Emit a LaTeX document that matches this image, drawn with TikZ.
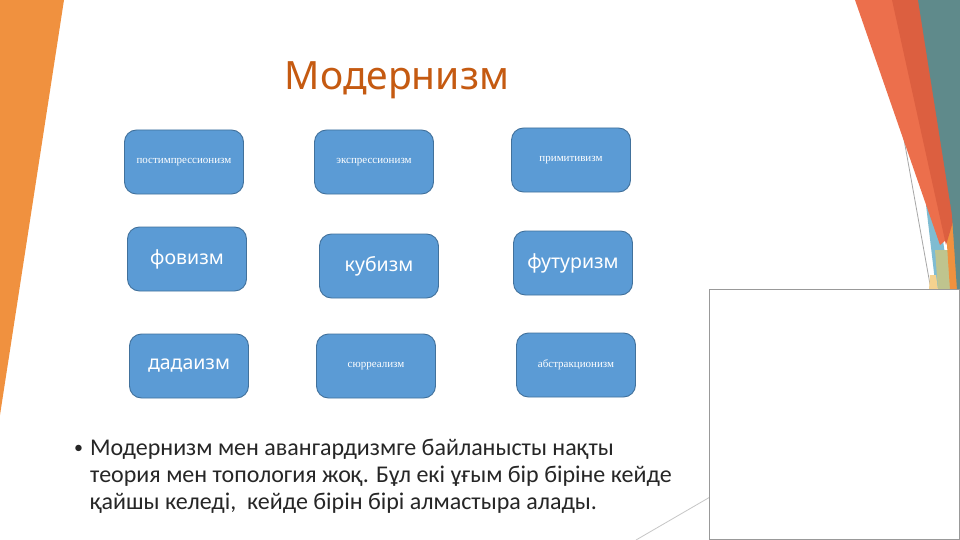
\documentclass[tikz,border=0pt]{standalone}
\usepackage{fontspec}
\setmainfont{Liberation Serif}
\newfontfamily\bodyfont{Carlito}
\newfontfamily\titlefont{Noto Sans}
\newfontfamily\serifbox{Liberation Serif}
\definecolor{boxfill}{HTML}{5B9BD5}
\definecolor{boxline}{HTML}{41719C}
\definecolor{titlecol}{HTML}{C55A11}
\definecolor{bandorange}{HTML}{F0913F}
\definecolor{salmon}{HTML}{EC6F4C}
\definecolor{redband}{HTML}{DC5F40}
\definecolor{tealband}{HTML}{5F8A8B}
\definecolor{lblue}{HTML}{7FBCD2}
\definecolor{beige}{HTML}{BFC48E}
\definecolor{paley}{HTML}{F5D28F}
\definecolor{bodytext}{HTML}{262626}
\tikzset{
  mbox/.style={draw=boxline, line width=0.9pt, fill=boxfill, rounded corners=12pt,
    minimum width=119pt, minimum height=64pt, inner sep=0pt, text=white},
  smallserif/.style={font=\serifbox\fontsize{11}{13}\selectfont},
  bigsans/.style={font=\titlefont\fontsize{19.5}{22}\selectfont},
  bodyline/.style={anchor=base west, inner sep=0pt, text=bodytext, font=\bodyfont\fontsize{24}{27}\selectfont}
}
\begin{document}
\begin{tikzpicture}[x=1pt,y=-1pt]
\useasboundingbox (0,0) rectangle (960,540);
\fill[white] (0,0) rectangle (960,540);
% left band
\fill[bandorange] (0,0) -- (64,0) -- (0,415) -- cycle;
% right stripes
\draw[gray!70, line width=0.8pt] (879,0) -- (931,290);
\fill[lblue] (926,205) -- (938,205) -- (950,290) -- (936,290) -- cycle;
\fill[beige] (935,250) -- (948,250) -- (955,290) -- (938,290) -- cycle;
\fill[paley] (930,275) -- (936,275) -- (938,290) -- (929,290) -- cycle;
\fill[bandorange] (944,200) -- (960,200) -- (960,290) -- (950,290) -- cycle;
\fill[salmon] (855,0) -- (905,0) -- (946,240) -- (940,245) -- cycle;
\fill[redband] (892,0) -- (925,0) -- (955,215) -- (946,245) -- cycle;
\fill[tealband] (918,0) -- (960,0) -- (960,290) -- (957,290) -- (952,215) -- cycle;
% diagonal line and right frame
\coordinate (dl) at (636,540);
\coordinate (dr) at (760,468);
\draw[gray!45, line width=0.8pt] (dl) -- (dr);
\node[draw=gray!80, fill=white, line width=0.8pt, minimum width=250pt, minimum height=250pt, inner sep=0pt, anchor=north west] (frame) at (709,289) {};
% title
\node[font=\titlefont\fontsize{39}{44}\selectfont, text=titlecol, inner sep=0pt] (title) at (397,80) {Модернизм};
% boxes
\node[mbox, smallserif] (b1) at (184,162) {постимпрессионизм};
\node[mbox, smallserif] (b2) at (374,162) {экспрессионизм};
\node[mbox, smallserif] (b3) at (571,160) {примитивизм};
\node[mbox, bigsans] (b4) at (187,259) {фовизм};
\node[mbox, bigsans] (b5) at (379,266) {кубизм};
\node[mbox, bigsans] (b6) at (573,263) {футуризм};
\node[mbox, bigsans] (b7) at (189,366) {дадаизм};
\node[mbox, smallserif] (b8) at (376,366) {сюрреализм};
\node[mbox, smallserif] (b9) at (576,365) {абстракционизм};
% body text
\node[bodyline, font=\bodyfont\fontsize{18}{20}\selectfont] (bul) at (74,453) {•};
\node[bodyline] (l1) at (90,455) {Модернизм мен авангардизмге байланысты нақты};
\node[bodyline] (l2) at (90,482) {теория мен топология жоқ. Бұл екі ұғым бір біріне кейде};
\node[bodyline] (l3) at (90,509) {қайшы келеді,\ \ кейде бірін бірі алмастыра алады.};
\end{tikzpicture}
\end{document}
